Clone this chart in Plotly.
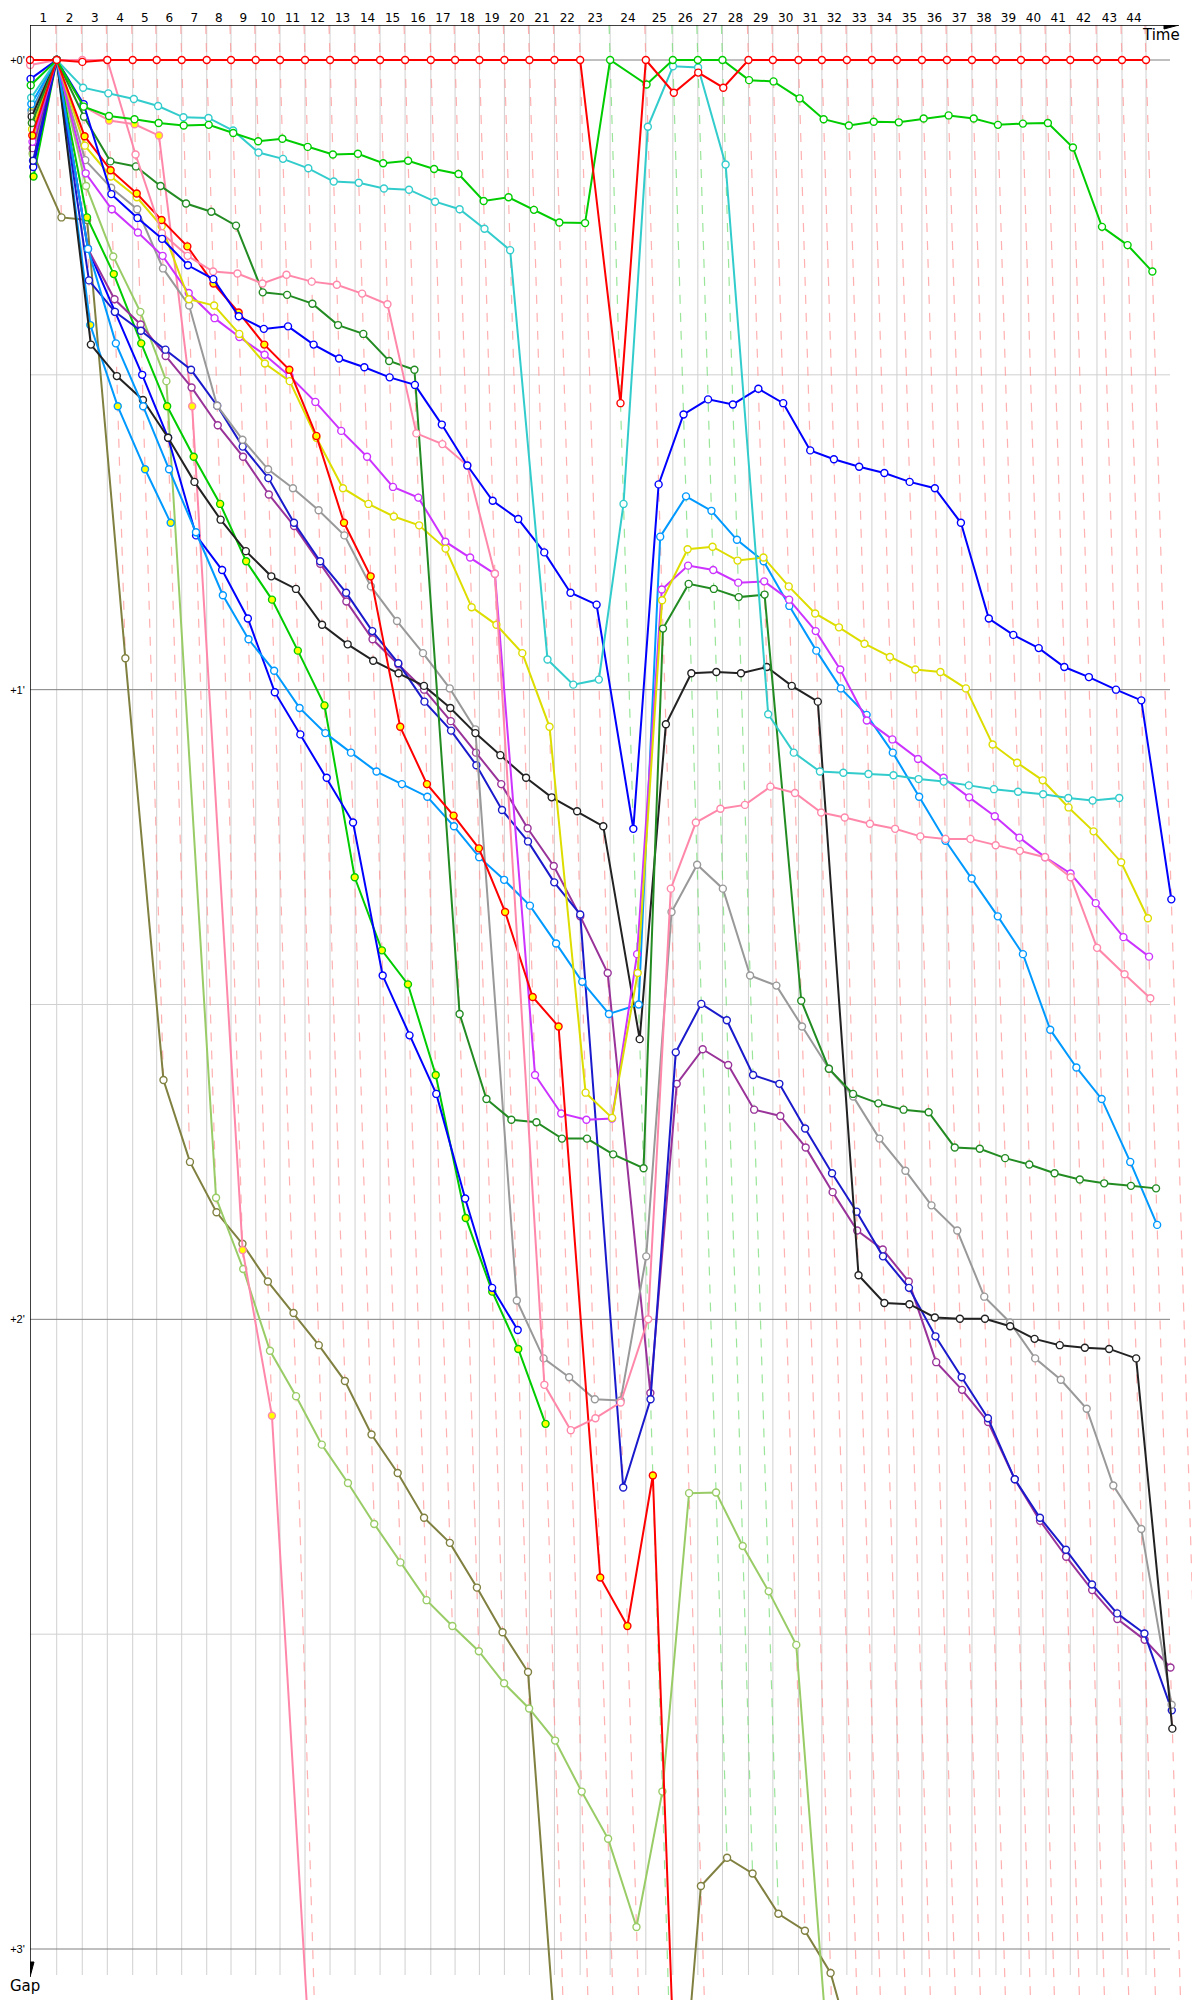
import plotly.graph_objects as go

# leader lap times in seconds, laps 1..44
lap_seconds = [84.3, 80.8, 79.0, 80.2, 75.8, 79.0, 79.0, 76.7, 78.0, 76.7,
               79.0, 79.0, 79.0, 79.0, 79.0, 81.2, 76.7, 76.7, 79.0, 79.0,
               79.0, 81.2, 94.7, 112.7, 85.3, 79.0, 77.7, 82.1, 77.1, 80.8,
               73.9, 79.0, 79.0, 79.0, 79.0, 79.0, 79.0, 75.8, 79.0, 79.0,
               76.7, 84.3, 79.0, 75.8]
lap_labels = [str(i) for i in range(1, 45)]
safety_car_laps = [23, 25, 26, 27]

# gap to the leader in minutes, at the end of lap 0, 1, 2, ...
gap_red = [0, 0, 0.003, 0, 0, 0, 0, 0, 0, 0, 0, 0, 0, 0, 0, 0, 0, 0, 0, 0,
           0, 0, 0, 0.545, 0, 0.052, 0.020, 0.044, 0, 0, 0, 0, 0, 0, 0, 0,
           0, 0, 0, 0, 0, 0, 0, 0, 0]
gap_green = [0.04, 0, 0.074, 0.089, 0.094, 0.100, 0.104, 0.103, 0.116, 0.129,
             0.125, 0.138, 0.150, 0.149, 0.164, 0.160, 0.173, 0.181, 0.224, 0.218,
             0.238, 0.258, 0.259, 0, 0.039, 0, 0, 0, 0.032, 0.034,
             0.061, 0.094, 0.104, 0.098, 0.099, 0.093, 0.088, 0.093, 0.103, 0.101,
             0.100, 0.139, 0.265, 0.294, 0.336]
gap_cyan = [0.06, 0, 0.044, 0.053, 0.062, 0.073, 0.091, 0.092, 0.112, 0.147,
            0.157, 0.172, 0.193, 0.195, 0.204, 0.206, 0.225, 0.237, 0.268, 0.302,
            0.952, 0.992, 0.984, 0.705, 0.106, 0.010, 0.012, 0.166, 1.039, 1.100,
            1.130, 1.132, 1.134, 1.136, 1.142, 1.146, 1.152, 1.158, 1.162, 1.166,
            1.172, 1.176, 1.172]
gap_blue = [0.03, 0, 0.070, 0.213, 0.251, 0.284, 0.326, 0.348, 0.407, 0.427,
            0.423, 0.452, 0.474, 0.488, 0.504, 0.516, 0.579, 0.644, 0.700, 0.729,
            0.782, 0.846, 0.865, 1.221, 0.674, 0.563, 0.539, 0.547, 0.522, 0.545,
            0.620, 0.634, 0.646, 0.656, 0.670, 0.680, 0.735, 0.887, 0.913, 0.934,
            0.964, 0.980, 1.000, 1.017, 1.333]
gap_red2 = [0.12, 0, 0.121, 0.175, 0.212, 0.254, 0.296, 0.355, 0.401, 0.452,
            0.492, 0.597, 0.735, 0.820, 1.059, 1.150, 1.200, 1.252, 1.353, 1.488,
            1.535, 2.410, 2.487, 2.248, 12.0]
gap_darkgreen = [0.10, 0, 0.090, 0.161, 0.169, 0.200, 0.228, 0.241, 0.263, 0.369,
                 0.373, 0.387, 0.421, 0.435, 0.478, 0.492, 1.515, 1.650, 1.683, 1.687,
                 1.713, 1.713, 1.738, 1.760, 0.903, 0.832, 0.840, 0.853, 0.849, 1.494,
                 1.602, 1.642, 1.657, 1.667, 1.671, 1.727, 1.729, 1.744, 1.754, 1.768,
                 1.778, 1.784, 1.788, 1.792]
gap_yellow = [0.11, 0, 0.136, 0.185, 0.218, 0.264, 0.380, 0.390, 0.435, 0.482,
              0.510, 0.600, 0.680, 0.705, 0.725, 0.739, 0.776, 0.869, 0.897, 0.942,
              1.059, 1.640, 1.680, 1.450, 0.858, 0.777, 0.773, 0.795, 0.790, 0.836,
              0.879, 0.901, 0.927, 0.948, 0.968, 0.972, 0.998, 1.087, 1.116, 1.144,
              1.187, 1.225, 1.274, 1.363]
gap_violet = [0.13, 0, 0.180, 0.237, 0.274, 0.311, 0.370, 0.410, 0.440, 0.468,
              0.502, 0.543, 0.589, 0.630, 0.678, 0.695, 0.765, 0.790, 0.816, 1.612,
              1.673, 1.683, 1.681, 1.420, 0.841, 0.803, 0.810, 0.830, 0.828, 0.857,
              0.907, 0.968, 1.049, 1.079, 1.110, 1.140, 1.171, 1.201, 1.235, 1.266,
              1.292, 1.339, 1.393, 1.424]
gap_gray = [0.085, 0, 0.159, 0.203, 0.237, 0.331, 0.390, 0.549, 0.603, 0.650,
            0.680, 0.715, 0.755, 0.836, 0.891, 0.942, 0.998, 1.063, 1.970, 2.062,
            2.092, 2.127, 2.129, 1.900, 1.353, 1.278, 1.316, 1.454, 1.470, 1.535,
            1.602, 1.646, 1.713, 1.764, 1.819, 1.859, 1.964, 2.005, 2.062, 2.096,
            2.142, 2.264, 2.333, 2.612]
gap_black = [0.09, 0, 0.452, 0.502, 0.540, 0.600, 0.670, 0.730, 0.780, 0.820,
             0.840, 0.897, 0.928, 0.954, 0.974, 0.994, 1.029, 1.069, 1.104, 1.140,
             1.171, 1.193, 1.217, 1.555, 1.055, 0.974, 0.972, 0.974, 0.964, 0.994,
             1.019, 1.930, 1.974, 1.976, 1.997, 1.999, 1.999, 2.011, 2.031, 2.041,
             2.045, 2.047, 2.062, 2.650]
gap_pink = [0.008, 0, 0, 0, 0.150, 0.275, 0.311, 0.336, 0.339, 0.355,
            0.341, 0.352, 0.357, 0.371, 0.388, 0.593, 0.610, 0.644, 0.816, 2.104,
            2.176, 2.157, 2.132, 2.000, 1.316, 1.211, 1.189, 1.183, 1.154, 1.164,
            1.195, 1.203, 1.213, 1.221, 1.233, 1.237, 1.237, 1.247, 1.256, 1.266,
            1.298, 1.410, 1.452, 1.490]
gap_pink2 = [0.10, 0, 0.074, 0.096, 0.102, 0.120, 0.550, 1.890, 2.153, 3.500]
gap_olive = [0.148, 0.250, 0.254, 0.950, 1.620, 1.750, 1.830, 1.880, 1.940, 1.990,
             2.041, 2.098, 2.183, 2.244, 2.315, 2.355, 2.426, 2.497, 2.560, 3.460,
             3.500, 3.550, 3.500, 3.400, 2.900, 2.855, 2.880, 2.944, 2.971, 3.038,
             3.200, 3.250, 3.300, 3.350, 3.400, 3.450, 3.500, 3.550, 3.600, 3.650,
             3.700, 3.750, 3.800, 3.850, 3.900]
gap_lightgreen = [0.15, 0, 0.200, 0.312, 0.400, 0.510, 1.807, 1.920, 2.050, 2.122,
                  2.199, 2.260, 2.325, 2.386, 2.446, 2.487, 2.527, 2.578, 2.618, 2.669,
                  2.750, 2.825, 2.965, 2.750, 2.276, 2.275, 2.360, 2.432, 2.517, 3.340]
gap_skyblue = [0.07, 0, 0.300, 0.450, 0.550, 0.650, 0.750, 0.850, 0.920, 0.970,
               1.029, 1.069, 1.100, 1.130, 1.150, 1.170, 1.217, 1.266, 1.302, 1.343,
               1.403, 1.464, 1.515, 1.500, 0.757, 0.693, 0.716, 0.762, 0.796, 0.867,
               0.938, 0.998, 1.040, 1.100, 1.170, 1.240, 1.300, 1.360, 1.420, 1.540,
               1.600, 1.650, 1.750, 1.850]
gap_navy = [0.16, 0, 0.350, 0.400, 0.430, 0.460, 0.492, 0.549, 0.614, 0.664,
            0.735, 0.796, 0.846, 0.907, 0.958, 1.019, 1.065, 1.120, 1.191, 1.241,
            1.306, 1.357, 2.267, 2.127, 1.576, 1.499, 1.525, 1.612, 1.626, 1.697,
            1.768, 1.829, 1.900, 1.950, 2.027, 2.092, 2.157, 2.254, 2.315, 2.366,
            2.421, 2.467, 2.499, 2.621]
gap_purple = [0.14, 0, 0.300, 0.380, 0.420, 0.470, 0.520, 0.580, 0.630, 0.690,
              0.740, 0.800, 0.860, 0.920, 0.960, 1.000, 1.050, 1.100, 1.150, 1.220,
              1.280, 1.360, 1.450, 2.117, 1.626, 1.571, 1.596, 1.667, 1.677, 1.727,
              1.798, 1.859, 1.889, 1.940, 2.068, 2.112, 2.163, 2.254, 2.320, 2.377,
              2.430, 2.476, 2.509, 2.553]
gap_blue2 = [0.17, 0, 0.300, 0.400, 0.500, 0.600, 0.755, 0.810, 0.887, 1.004,
             1.071, 1.140, 1.211, 1.454, 1.549, 1.642, 1.808, 1.950, 2.017]
gap_green2 = [0.185, 0, 0.250, 0.340, 0.450, 0.550, 0.630, 0.705, 0.796, 0.857,
              0.938, 1.025, 1.298, 1.414, 1.468, 1.612, 1.839, 1.956, 2.047, 2.166]
gap_skyblue2 = [0.08, 0, 0.421, 0.550, 0.650, 0.735]

WHITE = "#ffffff"
YELLOW = "#ffff00"
drivers = [
    (gap_olive, "#808040", WHITE),
    (gap_lightgreen, "#99cc66", WHITE),
    (gap_pink2, "#ff88aa", YELLOW),
    (gap_skyblue2, "#0099ff", YELLOW),
    (gap_green2, "#00cc00", YELLOW),
    (gap_blue2, "#0000ff", WHITE),
    (gap_purple, "#993399", WHITE),
    (gap_navy, "#1a1acc", WHITE),
    (gap_gray, "#999999", WHITE),
    (gap_black, "#222222", WHITE),
    (gap_skyblue, "#0099ff", WHITE),
    (gap_violet, "#cc33ff", WHITE),
    (gap_yellow, "#dddd00", WHITE),
    (gap_darkgreen, "#228b22", WHITE),
    (gap_red2, "#ff0000", YELLOW),
    (gap_pink, "#ff88aa", WHITE),
    (gap_blue, "#0000ff", WHITE),
    (gap_cyan, "#33cccc", WHITE),
    (gap_green, "#00cc00", WHITE),
    (gap_red, "#ff0000", WHITE),
]

# leader's elapsed time (minutes) at the end of each lap
lap_end = [0.0]
for s in lap_seconds:
    lap_end.append(lap_end[-1] + s / 60.0)

# pixel helpers for the decorations, in page pixels
# (19 px per minute across, 629.67 px per minute down; the page body adds an 8 px offset)
X_SCALE = 19.0
Y_SCALE = 629.67


def px_x(px):
    return (px - 30) / X_SCALE


def px_y(py):
    return (py - 60) / Y_SCALE


fig = go.Figure()

shapes = []
top, bottom = px_y(25), px_y(1975)
for j in range(1, len(lap_end)):
    shapes.append(dict(type="line", xref="x", yref="y", x0=lap_end[j], x1=lap_end[j],
                       y0=top, y1=bottom, line=dict(color="#d0d0d0", width=1), layer="below"))
for g in [0.5, 1.5, 2.5]:
    shapes.append(dict(type="line", xref="x", yref="y", x0=0, x1=px_x(1170), y0=g, y1=g,
                       line=dict(color="#d0d0d0", width=1), layer="below"))
for g in [0, 1, 2, 3]:
    shapes.append(dict(type="line", xref="x", yref="y", x0=0, x1=px_x(1170), y0=g, y1=g,
                       line=dict(color="#808080", width=1), layer="below"))

# lap isochrones: every car's point for a lap sits on x = lap_end + gap
for j in range(1, len(lap_end)):
    deepest = max(d[0][j] for d in drivers if len(d[0]) > j)
    colour = "rgba(120,220,120,0.75)" if j in safety_car_laps else "rgba(255,150,150,0.75)"
    shapes.append(dict(type="line", xref="x", yref="y", x0=lap_end[j] + top, y0=top,
                       x1=lap_end[j] + deepest, y1=deepest,
                       line=dict(color=colour, width=1.2, dash="dash"), layer="below"))

# axes with arrow heads
shapes.append(dict(type="line", xref="x", yref="y", x0=0, x1=px_x(1168), y0=top, y1=top,
                   line=dict(color="black", width=1.5)))
shapes.append(dict(type="line", xref="x", yref="y", x0=0, x1=0, y0=top, y1=px_y(1966),
                   line=dict(color="black", width=1.5)))
shapes.append(dict(type="path", xref="x", yref="y",
                   path=f"M {px_x(1179)} {px_y(25)} L {px_x(1164)} {px_y(21)} L {px_x(1164)} {px_y(29)} Z",
                   fillcolor="black", line=dict(color="black", width=1)))
shapes.append(dict(type="path", xref="x", yref="y",
                   path=f"M {px_x(30)} {px_y(1977)} L {px_x(26)} {px_y(1962)} L {px_x(34)} {px_y(1962)} Z",
                   fillcolor="black", line=dict(color="black", width=1)))

for gaps, color, fill in drivers:
    xs = [lap_end[j] + g for j, g in enumerate(gaps)]
    fig.add_trace(
        go.Scatter(
            x=xs,
            y=gaps,
            mode="lines+markers",
            line=dict(color=color, width=2),
            marker=dict(size=7, color=fill, line=dict(color=color, width=1.4)),
            cliponaxis=False,
            hoverinfo="skip",
        )
    )

mid = [(lap_end[k] + lap_end[k + 1]) / 2 for k in range(len(lap_seconds))]

# plot area spans page x 30..1200 and page y 25..2000
fig.update_layout(
    width=1192,
    height=1992,
    margin=dict(l=22, r=0, t=17, b=0, autoexpand=False),
    plot_bgcolor="white",
    paper_bgcolor="white",
    showlegend=False,
    shapes=shapes,
    font=dict(family="DejaVu Sans", color="black"),
    annotations=[
        dict(text="Time", x=(1161 - 30) / 1170, y=(2000 - 35) / 1975, xref="paper", yref="paper",
             xanchor="center", yanchor="middle", showarrow=False,
             font=dict(size=15, family="DejaVu Sans", color="black")),
        dict(text="Gap", x=(25 - 30) / 1170, y=(2000 - 1986) / 1975, xref="paper", yref="paper",
             xanchor="center", yanchor="middle", showarrow=False,
             font=dict(size=15, family="DejaVu Sans", color="black")),
    ],
)
fig.update_xaxes(
    range=[0, px_x(1200)],
    automargin=False,
    side="top",
    showgrid=False,
    zeroline=False,
    showline=False,
    tickmode="array",
    tickvals=mid,
    ticktext=lap_labels,
    ticks="",
    tickfont=dict(size=12),
)
fig.update_yaxes(
    range=[px_y(2000), px_y(25)],
    automargin=False,
    showgrid=False,
    zeroline=False,
    showline=False,
    tickmode="array",
    tickvals=[0, 1, 2, 3],
    ticktext=["+0'", "+1'", "+2'", "+3'"],
    ticks="outside",
    ticklen=2,
    tickcolor="rgba(0,0,0,0)",
    tickfont=dict(size=11, family="Liberation Sans"),
)

fig.write_html("out.html")
